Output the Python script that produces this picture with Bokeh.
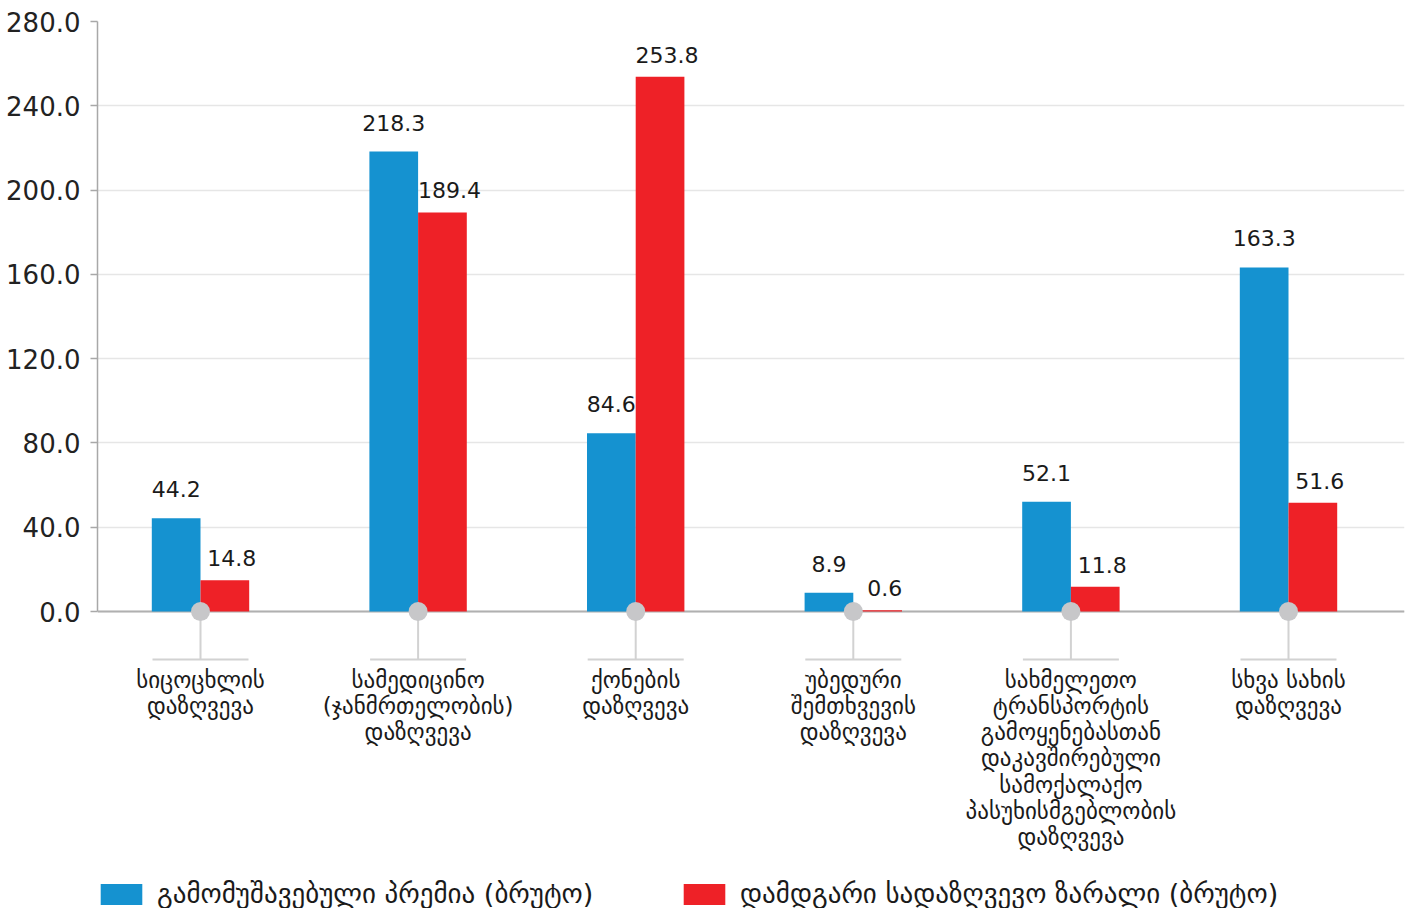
from bokeh.plotting import figure
from bokeh.models import Range1d, FixedTicker, Span, Legend, LegendItem, NumeralTickFormatter
from bokeh.core.properties import value
from bokeh.embed import file_html
from bokeh.resources import INLINE

# ---------------- data ----------------
categories = [
    "სიცოცხლის\nდაზღვევა",
    "სამედიცინო\n(ჯანმრთელობის)\nდაზღვევა",
    "ქონების\nდაზღვევა",
    "უბედური\nშემთხვევის\nდაზღვევა",
    "სახმელეთო\nტრანსპორტის\nგამოყენებასთან\nდაკავშირებული\nსამოქალაქო\nპასუხისმგებლობის\nდაზღვევა",
    "სხვა სახის\nდაზღვევა",
]
premium = [44.2, 218.3, 84.6, 8.9, 52.1, 163.3]
claims = [14.8, 189.4, 253.8, 0.6, 11.8, 51.6]
series_names = ["გამომუშავებული პრემია (ბრუტო)", "დამდგარი სადაზღვევო ზარალი (ბრუტო)"]
y_ticks = [0, 40, 80, 120, 160, 200, 240, 280]

# ---------------- layout / style ----------------
BLUE = "#1592d0"
RED = "#ee2127"
FONT = value("DejaVu Sans")
W, H = 1406, 908
BORDER_L, BORDER_R, BORDER_T = 97, 2, 21
Y_MAX = 280
PX_PER_UNIT = 590 / 280
frame_h = H - BORDER_T
Y_MIN = Y_MAX - frame_h / PX_PER_UNIT
CAT_PX = 217.6
frame_w = W - BORDER_L - BORDER_R
X_MIN = -103 / CAT_PX
X_MAX = X_MIN + frame_w / CAT_PX
BW = 48.7 / CAT_PX

idx = list(range(len(categories)))
xb = [i - BW / 2 for i in idx]
xr = [i + BW / 2 for i in idx]
zeros = [0] * len(idx)

p = figure(width=W, height=H, output_backend="svg", toolbar_location=None,
           x_range=Range1d(X_MIN, X_MAX), y_range=Range1d(Y_MIN, Y_MAX),
           x_axis_location=None, min_border_left=BORDER_L, min_border_right=BORDER_R,
           min_border_top=BORDER_T, min_border_bottom=0)
p.outline_line_color = None
p.xgrid.visible = False
p.ygrid.ticker = FixedTicker(ticks=y_ticks)
p.ygrid.bounds = (0, Y_MAX)
p.ygrid.grid_line_color = "#e6e6e6"
p.ygrid.grid_line_width = 1.5

ax = p.yaxis[0]
ax.ticker = FixedTicker(ticks=y_ticks)
ax.bounds = (0, Y_MAX)
ax.formatter = NumeralTickFormatter(format="0.0")
ax.major_label_text_font = "DejaVu Sans"
ax.major_label_text_font_size = "26px"
ax.major_label_text_color = "#222222"
ax.axis_line_color = "#a8a8a8"
ax.axis_line_width = 1.5
ax.major_tick_line_color = "#a8a8a8"
ax.major_tick_line_width = 1.5
ax.major_tick_out = 7
ax.major_tick_in = 0
ax.minor_tick_line_color = None
ax.major_label_standoff = 10

rb = p.vbar(x=xb, top=premium, width=BW, bottom=0, fill_color=BLUE, line_color=None)
rr = p.vbar(x=xr, top=claims, width=BW, bottom=0, fill_color=RED, line_color=None)

p.add_layout(Span(location=0, dimension="width", line_color="#b0b0b0", line_width=2, level="underlay"))

drop = 48 / PX_PER_UNIT
half = 48 / CAT_PX
p.segment(x0=idx, y0=zeros, x1=idx, y1=[-drop] * len(idx), line_color="#d2d2d2", line_width=2)
p.segment(x0=[i - half for i in idx], y0=[-drop] * len(idx), x1=[i + half for i in idx],
          y1=[-drop] * len(idx), line_color="#d2d2d2", line_width=2)
p.scatter(x=idx, y=zeros, size=19, fill_color="#c7c7c9", line_color=None)

p.text(x=idx, y=zeros, text=categories, text_align="center", text_baseline="top",
       y_offset=55, text_font=FONT, text_font_size="23px", text_line_height=1.01,
       text_color="#1a1a1a")

p.text(x=xb, y=premium, text=[f"{v:.1f}" for v in premium], text_align="center",
       text_baseline="alphabetic", y_offset=-29, text_font=FONT, text_font_size="22px",
       text_color="#1a1a1a")
p.text(x=xr, y=claims, text=[f"{v:.1f}" for v in claims], text_align="center",
       text_baseline="alphabetic", x_offset=7, y_offset=-22, text_font=FONT,
       text_font_size="22px", text_color="#1a1a1a")

for r, name, xloc in [(rb, series_names[0], -2), (rr, series_names[1], 581)]:
    leg = Legend(items=[LegendItem(label=name, renderers=[r])], location=(xloc, -1),
                 orientation="horizontal", glyph_width=52, glyph_height=26, label_height=26,
                 label_standoff=10, padding=0, margin=0, spacing=0,
                 border_line_color=None, background_fill_alpha=0,
                 label_text_font="DejaVu Sans", label_text_font_size="27px",
                 label_text_color="#1a1a1a")
    p.add_layout(leg)

open("out.html", "w").write(file_html(p, INLINE))
